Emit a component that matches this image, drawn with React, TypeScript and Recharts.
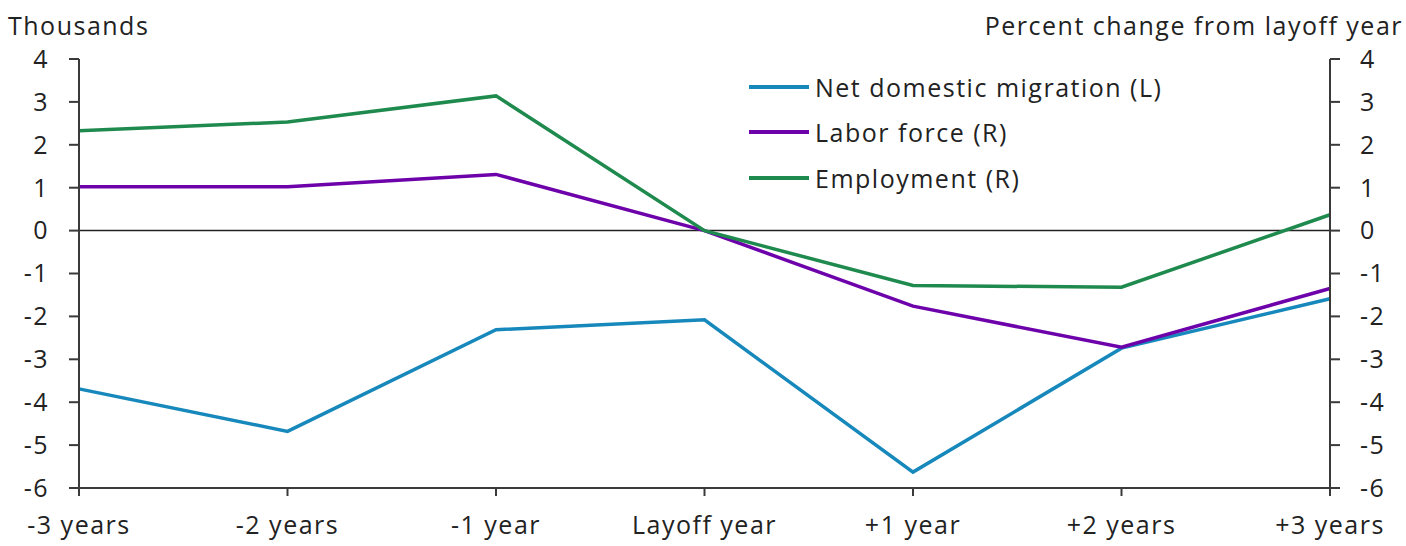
import React from "react";
import { LineChart, Line, XAxis, YAxis, ReferenceLine } from "recharts";

const categories = ["-3 years", "-2 years", "-1 year", "Layoff year", "+1 year", "+2 years", "+3 years"];
const netMigration = [-3.69, -4.68, -2.31, -2.08, -5.63, -2.74, -1.59];
const laborForce = [1.02, 1.02, 1.31, 0, -1.76, -2.72, -1.35];
const employment = [2.33, 2.53, 3.14, 0, -1.28, -1.32, 0.37];
const yTicks = [-6, -5, -4, -3, -2, -1, 0, 1, 2, 3, 4];

const seriesInfo = [
  { key: "net", name: "Net domestic migration (L)", color: "#1788bb" },
  { key: "lf", name: "Labor force (R)", color: "#6e02aa" },
  { key: "emp", name: "Employment (R)", color: "#1f8a4e" },
];

const data = categories.map((c, i) => ({
  cat: c,
  net: netMigration[i],
  lf: laborForce[i],
  emp: employment[i],
}));

const FONT = "'Open Sans', Lato, sans-serif";
const FS = 25;
const LS = 1.5;
const AXIS_COLOR = "#3a3a3a";

export default function App() {
  const tickStyle = { fontFamily: FONT, fontSize: FS, fill: "#222", letterSpacing: LS };
  return (
    <div style={{ position: "absolute", left: 0, top: 0, width: 1406, height: 546, background: "#fff" }}>
      <LineChart width={1406} height={546} data={data} margin={{ top: 59, right: 0, bottom: 0, left: 0 }}>
        <XAxis
          dataKey="cat"
          height={58}
          padding={{ left: 0, right: 0 }}
          tick={tickStyle}
          tickSize={8}
          tickMargin={20}
          stroke={AXIS_COLOR}
          strokeWidth={2}
          interval={0}
        />
        <YAxis
          yAxisId="L"
          orientation="left"
          width={79}
          domain={[-6, 4]}
          ticks={yTicks}
          tick={tickStyle}
          tickSize={10}
          tickMargin={20}
          stroke={AXIS_COLOR}
          strokeWidth={2}
          interval={0}
        />
        <YAxis
          yAxisId="R"
          orientation="right"
          width={76}
          domain={[-6, 4]}
          ticks={yTicks}
          tick={tickStyle}
          tickSize={10}
          tickMargin={20}
          stroke={AXIS_COLOR}
          strokeWidth={2}
          interval={0}
        />
        <ReferenceLine yAxisId="L" y={0} stroke="#222" strokeWidth={1.5} />
        <Line yAxisId="L" dataKey="net" name={seriesInfo[0].name} stroke={seriesInfo[0].color} strokeWidth={3.5} dot={false} isAnimationActive={false} />
        <Line yAxisId="R" dataKey="lf" name={seriesInfo[1].name} stroke={seriesInfo[1].color} strokeWidth={3.5} dot={false} isAnimationActive={false} />
        <Line yAxisId="R" dataKey="emp" name={seriesInfo[2].name} stroke={seriesInfo[2].color} strokeWidth={3.5} dot={false} isAnimationActive={false} />
      </LineChart>
      <div style={{ position: "absolute", left: 8, top: 10, fontFamily: FONT, fontSize: FS, letterSpacing: LS, color: "#222", lineHeight: "30px" }}>
        Thousands
      </div>
      <div style={{ position: "absolute", right: 3, top: 10, fontFamily: FONT, fontSize: FS, letterSpacing: LS, color: "#222", lineHeight: "30px", whiteSpace: "nowrap" }}>
        Percent change from layoff year
      </div>
      <div style={{ position: "absolute", left: 749, top: 64, fontFamily: FONT, fontSize: FS, letterSpacing: LS, color: "#222" }}>
        {seriesInfo.map((s) => (
          <div key={s.key} style={{ display: "flex", alignItems: "center", height: 45.5 }}>
            <div style={{ width: 60, height: 4, background: s.color, marginRight: 6 }} />
            <span>{s.name}</span>
          </div>
        ))}
      </div>
    </div>
  );
}
